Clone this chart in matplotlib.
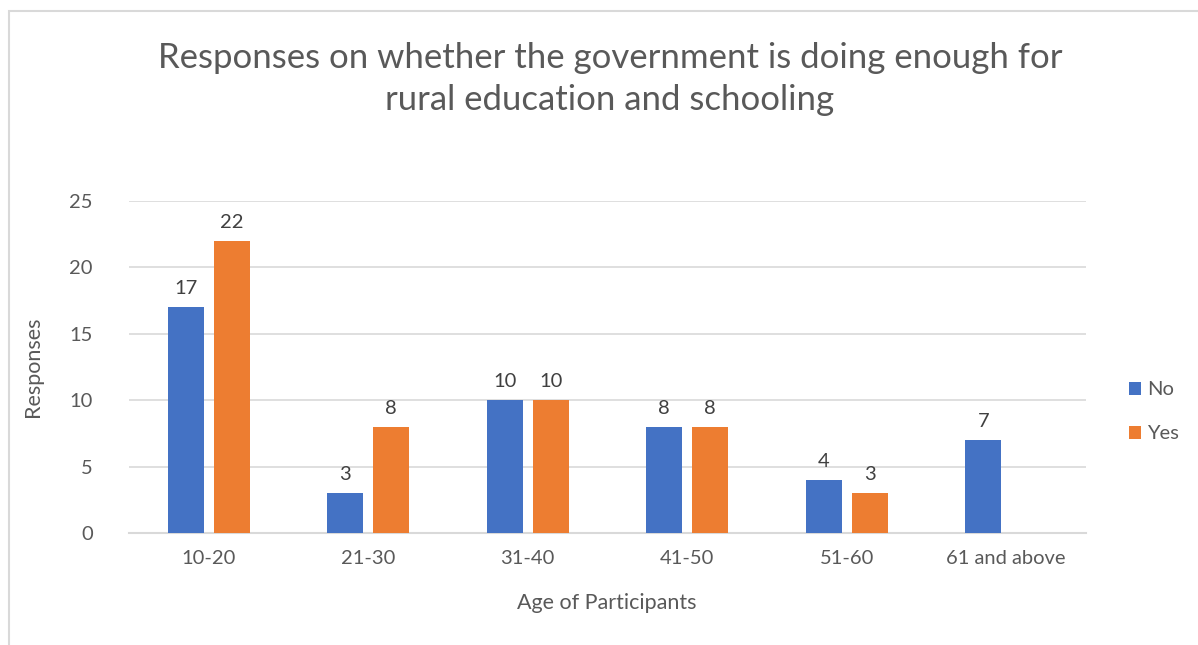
import matplotlib
matplotlib.use("Agg")
import matplotlib.pyplot as plt
import numpy as np
from matplotlib.patches import Rectangle

categories = ["10-20", "21-30", "31-40", "41-50", "51-60", "61 and above"]
no_vals = [17, 3, 10, 8, 4, 7]
yes_vals = [22, 8, 10, 8, 3, None]
yticks = [0, 5, 10, 15, 20, 25]

BLUE = "#4472C4"
ORANGE = "#ED7D31"
GRID = "#D9D9D9"
TXT = "#595959"
LBL = "#404040"

plt.rcParams['font.family'] = ['Lato', 'DejaVu Sans']

W, H = 1198, 645
fig = plt.figure(figsize=(W / 100, H / 100), dpi=100)
fig.patch.set_facecolor("white")

# chart border (cropped at right/bottom)
fig.patches.append(Rectangle((9 / W, -0.1), 1.2, 1 - 11 / H + 0.1, transform=fig.transFigure,
                             fill=False, edgecolor=GRID, linewidth=1.5))

ax = fig.add_axes([129 / W, 1 - 533 / H, (1086 - 129) / W, (533 - 201) / H])
x = np.arange(len(categories))
bw = 0.226
gap = 0.063
off = (bw + gap) / 2

no_arr = np.array(no_vals, dtype=float)
yes_arr = np.array([v if v is not None else np.nan for v in yes_vals], dtype=float)

ax.bar(x - off, no_arr, bw, color=BLUE, label="No", zorder=3)
ax.bar(x + off, yes_arr, bw, color=ORANGE, label="Yes", zorder=3)

for xi, v in zip(x - off, no_vals):
    ax.text(xi, v + 0.75, str(v), ha="center", va="bottom", fontsize=14.5, color=LBL)
for xi, v in zip(x + off, yes_vals):
    if v is not None:
        ax.text(xi, v + 0.75, str(v), ha="center", va="bottom", fontsize=14.5, color=LBL)

ax.set_xlim(-0.5, len(categories) - 0.5)
ax.set_ylim(0, 25)
ax.set_yticks(yticks)
ax.yaxis.grid(True, color=GRID, linewidth=1.2, zorder=0)
ax.set_axisbelow(True)
for s in ["top", "right", "left"]:
    ax.spines[s].set_visible(False)
ax.spines["bottom"].set_color(GRID)
ax.spines["bottom"].set_linewidth(1.5)
ax.tick_params(axis="both", length=0, colors=TXT, labelsize=14.5)
ax.tick_params(axis="y", pad=26)
ax.tick_params(axis="x", pad=12)
ax.set_xticks(x)
ax.set_xticklabels(categories)

fig.text(33 / W, 1 - 367 / H, "Responses", rotation=90, ha="center", va="center",
         fontsize=15.5, color=TXT)
fig.text(607 / W, 1 - 603 / H, "Age of Participants", ha="center", va="center",
         fontsize=15.5, color=TXT)

fig.text(610 / W, 1 - 79 / H, "Responses on whether the government is doing enough for\nrural education and schooling",
         ha="center", va="center", fontsize=25, color=TXT, linespacing=1.42)

ax.legend(loc="center left", bbox_to_anchor=(1.026, 0.365), frameon=False,
          fontsize=14.5, handlelength=0.6, handleheight=0.6, handletextpad=0.3,
          labelspacing=1.35, labelcolor=TXT)

fig.savefig("out.png", dpi=100, facecolor="white")
